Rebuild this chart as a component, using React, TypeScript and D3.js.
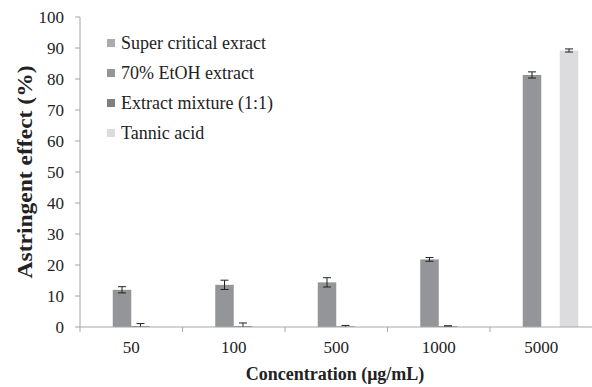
import React from "react";
import * as d3 from "d3";

const categories = ["50", "100", "500", "1000", "5000"];
const seriesNames = ["Super critical exract", "70% EtOH extract", "Extract mixture (1:1)", "Tannic acid"];
const seriesColors = ["#ababab", "#939598", "#7f7f7f", "#dcdcde"];
const superCritical = [0, 0, 0, 0, 0];
const superCriticalErr = [0, 0, 0, 0, 0];
const ethanol = [12.0, 13.6, 14.4, 21.8, 81.3];
const ethanolErr = [1.0, 1.5, 1.5, 0.6, 1.0];
const mixture = [0.3, 0.3, 0.2, 0.3, 0];
const mixtureErr = [0.8, 1.0, 0.3, 0.1, 0];
const tannic = [0, 0, 0, 0, 89.2];
const tannicErr = [0, 0, 0, 0, 0.5];
const yTicks = [0, 10, 20, 30, 40, 50, 60, 70, 80, 90, 100];

const values = [superCritical, ethanol, mixture, tannic];
const errors = [superCriticalErr, ethanolErr, mixtureErr, tannicErr];

export default function App() {
  const W = 592, H = 387;
  const left = 80, right = 592.5, top = 17, bottom = 327;
  const x = d3.scaleBand<string>().domain(categories).range([left, right]).paddingInner(0).paddingOuter(0);
  const y = d3.scaleLinear().domain([0, 100]).range([bottom, top]);
  const barW = 18.5;
  const font = "'Liberation Serif', 'Times New Roman', serif";
  return (
    <svg width={W} height={H} style={{ position: "absolute", left: 0, top: 0, background: "#fff" }} fontFamily={font}>
      <rect x={0} y={0} width={W} height={H} fill="#fff" />
      {categories.map((c, ci) => {
        const center = (x(c) as number) + x.bandwidth() / 2;
        const start = center - (barW * seriesNames.length) / 2;
        return values.map((vals, si) => {
          const v = vals[ci];
          const e = errors[si][ci];
          const bx = start + si * barW;
          const cx = bx + barW / 2;
          return (
            <g key={`${ci}-${si}`}>
              {v > 0 && (
                <rect x={bx} y={y(v)} width={barW} height={bottom - y(v)} fill={seriesColors[si]} />
              )}
              {e > 0 && (
                <g stroke="#222" strokeWidth={1}>
                  <line x1={cx} x2={cx} y1={y(v + e)} y2={Math.min(y(v - e), bottom)} />
                  <line x1={cx - 4} x2={cx + 4} y1={y(v + e)} y2={y(v + e)} />
                  {v - e > 0 && <line x1={cx - 4} x2={cx + 4} y1={y(v - e)} y2={y(v - e)} />}
                </g>
              )}
            </g>
          );
        });
      })}
      <line x1={left} x2={left} y1={top} y2={bottom} stroke="#a6a6a6" />
      {yTicks.map((t) => (
        <g key={t}>
          <line x1={left - 5} x2={left} y1={y(t)} y2={y(t)} stroke="#a6a6a6" />
          <text x={64} y={y(t)} dy="0.35em" textAnchor="end" fontSize={17} fill="#222">{t}</text>
        </g>
      ))}
      <line x1={left} x2={W} y1={bottom} y2={bottom} stroke="#a6a6a6" />
      {categories.map((c) => (
        <line key={"t" + c} x1={x(c) as number} x2={x(c) as number} y1={bottom} y2={bottom + 5} stroke="#a6a6a6" />
      ))}
      {categories.map((c) => (
        <text key={"l" + c} x={(x(c) as number) + x.bandwidth() / 2} y={353} textAnchor="middle" fontSize={17} fill="#222">{c}</text>
      ))}
      <text x={335} y={380} textAnchor="middle" fontSize={18} fontWeight="bold" fill="#222">Concentration (μg/mL)</text>
      <text transform={`translate(32, 172) rotate(-90)`} textAnchor="middle" fontSize={21} fontWeight="bold" fill="#222" textLength={213} lengthAdjust="spacingAndGlyphs">Astringent effect (%)</text>
      {seriesNames.map((n, i) => (
        <g key={n} transform={`translate(107, ${43 + i * 30})`}>
          <rect x={0} y={-4} width={8} height={8} fill={seriesColors[i]} />
          <text x={14} y={0} dy="0.35em" fontSize={18} fill="#222">{n}</text>
        </g>
      ))}
    </svg>
  );
}
